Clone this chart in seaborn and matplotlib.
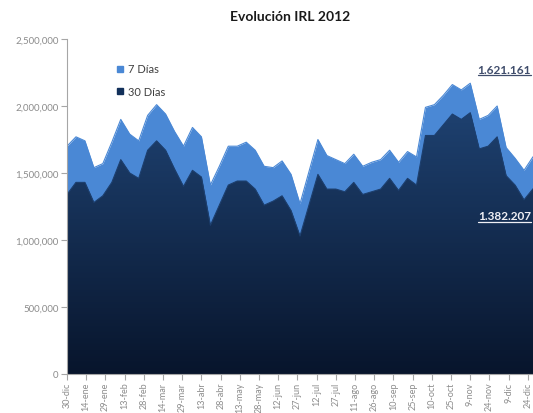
import numpy as np
import pandas as pd
import matplotlib
matplotlib.use("Agg")
import matplotlib.pyplot as plt
import matplotlib.dates as mdates
from matplotlib.colors import LinearSegmentedColormap
from matplotlib.lines import Line2D
import seaborn as sns

# ---- data ----
start_date = "2011-12-30"
n_weeks = 53
siete_dias = [1.70, 1.77, 1.74, 1.54, 1.57, 1.73, 1.90, 1.79, 1.74, 1.93, 2.01, 1.94, 1.81,
              1.70, 1.84, 1.77, 1.41, 1.55, 1.70, 1.70, 1.73, 1.67, 1.55, 1.54, 1.59, 1.49,
              1.27, 1.51, 1.75, 1.63, 1.60, 1.57, 1.64, 1.55, 1.58, 1.60, 1.67, 1.58, 1.66,
              1.62, 1.99, 2.01, 2.08, 2.16, 2.12, 2.17, 1.90, 1.93, 2.00, 1.69, 1.61, 1.52,
              1.621161]
treinta_dias = [1.34, 1.43, 1.43, 1.28, 1.33, 1.43, 1.60, 1.50, 1.46, 1.67, 1.74, 1.67, 1.53,
                1.40, 1.52, 1.47, 1.11, 1.26, 1.41, 1.44, 1.44, 1.38, 1.26, 1.29, 1.33, 1.22,
                1.03, 1.26, 1.49, 1.38, 1.38, 1.36, 1.43, 1.34, 1.36, 1.38, 1.46, 1.37, 1.46,
                1.41, 1.78, 1.78, 1.86, 1.94, 1.90, 1.95, 1.68, 1.70, 1.77, 1.48, 1.41, 1.30,
                1.382207]
tick_dates = pd.date_range("2011-12-30", "2012-12-24", freq="15D")
month_names = ["ene", "feb", "mar", "abr", "may", "jun", "jul", "ago", "sep", "oct", "nov", "dic"]
tick_labels = [f"{d.day}-{month_names[d.month - 1]}" for d in tick_dates]
y_ticks = [0, 500000, 1000000, 1500000, 2000000, 2500000]
label_7 = "7 Días"
label_30 = "30 Días"
last_7_text = "1.621.161"
last_30_text = "1.382.207"
title = "Evolución IRL 2012"

dates = pd.date_range(start_date, periods=n_weeks, freq="7D")
df = pd.DataFrame({
    "fecha": dates,
    "siete": np.array(siete_dias) * 1e6,
    "treinta": np.array(treinta_dias) * 1e6,
})

sns.set_theme(style="white")
plt.rcParams["font.family"] = ["Lato", "DejaVu Sans"]

W, H = 533, 414
fig = plt.figure(figsize=(W / 100, H / 100), dpi=100)
ax = fig.add_axes([67 / W, 1 - 375 / H, 1 - 67 / W, (375 - 40) / H])

light = "#4A88D5"
x = mdates.date2num(df["fecha"])

# 7 Días area (behind)
ax.fill_between(x, 0, df["siete"], color=light, lw=0, zorder=1)
sns.lineplot(data=df, x="fecha", y="siete", color=light, lw=0.8, ax=ax, zorder=1.5)

# 30 Días area with gradient
poly = ax.fill_between(x, 0, df["treinta"], color="#12305A", lw=0, zorder=2)
cmap = LinearSegmentedColormap.from_list("navy", ["#08152C", "#1F4373"])
grad = np.linspace(0, 1, 256).reshape(-1, 1)
im = ax.imshow(grad, cmap=cmap, origin="lower", aspect="auto",
               extent=[x[0], x[-1], 0, 2.05e6], zorder=2.1)
im.set_clip_path(poly.get_paths()[0], transform=ax.transData)
sns.lineplot(data=df, x="fecha", y="treinta", color="#1D3F6E", lw=0.8, ax=ax, zorder=2.2)

ax.set_xlim(x[0], x[-1])
ax.set_ylim(0, 2500000)
ax.set_yticks(y_ticks)
ax.set_yticklabels([f"{v:,.0f}" for v in y_ticks])
ax.set_xticks(mdates.date2num(tick_dates))
ax.set_xticklabels(tick_labels, rotation=90)
ax.set_xlabel("")
ax.set_ylabel("")

for s in ["top", "right"]:
    ax.spines[s].set_visible(False)
for s in ["left", "bottom"]:
    ax.spines[s].set_color("#A6A6A6")
    ax.spines[s].set_linewidth(0.8)
ax.spines["bottom"].set_zorder(5)
ax.tick_params(axis="both", which="both", length=4, width=0.8, color="#A6A6A6",
               labelcolor="#8C8C8C", direction="out", left=True, bottom=True, pad=2)
ax.tick_params(axis="y", labelsize=7)
ax.tick_params(axis="x", labelsize=6.5, pad=1.5)

if ax.get_legend() is not None:
    ax.get_legend().remove()

handles = [
    Line2D([], [], marker="s", ls="none", color=light, markersize=5),
    Line2D([], [], marker="s", ls="none", color="#12305A", markersize=5),
]
leg = ax.legend(handles, [label_7, label_30], loc="upper left",
                bbox_to_anchor=(112 / W, 1 - 60 / H), bbox_transform=fig.transFigure,
                frameon=False, fontsize=8, handlelength=0.7, handletextpad=0.3,
                labelspacing=1.0, borderaxespad=0)
for t in leg.get_texts():
    t.set_color("#404040")

fig.text(290 / W, 1 - 17 / H, title, ha="center", va="center",
         fontsize=10, fontweight="bold", color="#1A1A1A")

t1 = fig.text(531 / W, 1 - 70 / H, last_7_text, ha="right", va="center",
              fontsize=8.5, fontweight="bold", color="#3F4C6B", zorder=10)
t2 = fig.text(531 / W, 1 - 217 / H, last_30_text, ha="right", va="center",
              fontsize=8.5, fontweight="bold", color="#F0F0F5", zorder=10)

fig.canvas.draw()
r = fig.canvas.get_renderer()
for t in (t1, t2):
    bb = t.get_window_extent(r)
    yy = (bb.y0 - 0.5) / (H)
    fig.add_artist(Line2D([bb.x0 / W, bb.x1 / W], [yy, yy], transform=fig.transFigure,
                          color=t.get_color(), lw=0.9, zorder=10))

fig.savefig("out.png", dpi=100)
